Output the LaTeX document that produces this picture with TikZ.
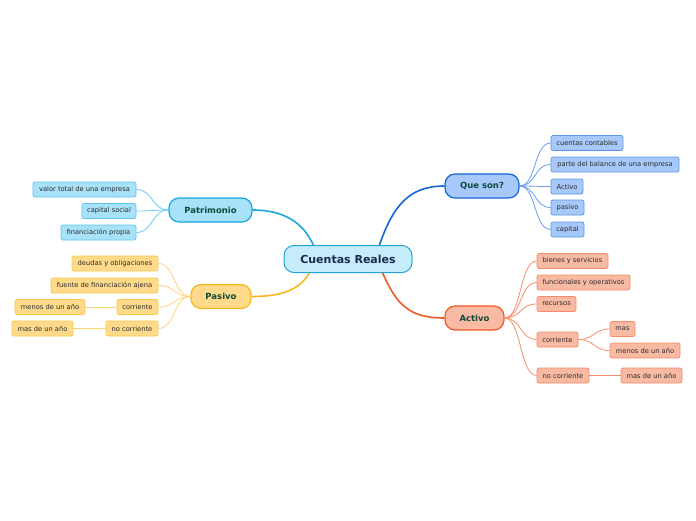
\documentclass[tikz,border=0pt]{standalone}
\usepackage{fontspec}
\setmainfont{DejaVu Sans}
\definecolor{crfill}{HTML}{C6ECFC}
\definecolor{crdraw}{HTML}{22A3DC}
\definecolor{crtext}{HTML}{1A2B4C}
\definecolor{brtext}{HTML}{0F4A3A}
\definecolor{leaftext}{HTML}{2A2A2A}
\definecolor{patfill}{HTML}{A7E2F8}
\definecolor{patdraw}{HTML}{1BA5E2}
\definecolor{patleaf}{HTML}{5CC6F0}
\definecolor{patline}{HTML}{6ACBF0}
\definecolor{pasfill}{HTML}{FFDA8A}
\definecolor{pasdraw}{HTML}{F8B61E}
\definecolor{pasleaf}{HTML}{FBC94B}
\definecolor{pasline}{HTML}{FDD37A}
\definecolor{qsfill}{HTML}{A6C8FA}
\definecolor{qsdraw}{HTML}{1665D5}
\definecolor{qsleaf}{HTML}{5D93EA}
\definecolor{qsline}{HTML}{6B9CEB}
\definecolor{acfill}{HTML}{F9BAA3}
\definecolor{acdraw}{HTML}{F1592A}
\definecolor{acleaf}{HTML}{F68B6B}
\definecolor{acline}{HTML}{F68E6D}
\tikzset{
  central/.style={draw=crdraw, fill=crfill, line width=1pt, rounded corners=10pt,
    minimum width=128pt, minimum height=27pt, inner sep=0pt, text=crtext,
    font=\fontsize{11}{13}\selectfont\bfseries},
  branch/.style={line width=1.2pt, rounded corners=10pt, minimum height=24pt,
    inner sep=0pt, text=brtext, font=\fontsize{8.5}{10}\selectfont\bfseries},
  leaf/.style={line width=0.7pt, rounded corners=2pt, minimum height=15pt,
    inner sep=2pt, text=leaftext, font=\fontsize{6.7}{8}\selectfont},
  pleaf/.style={leaf, draw=patleaf, fill=patfill},
  sleaf/.style={leaf, draw=pasleaf, fill=pasfill},
  qleaf/.style={leaf, draw=qsleaf, fill=qsfill},
  aleaf/.style={leaf, draw=acleaf, fill=acfill},
  mainc/.style={line width=1.6pt},
  leafc/.style={line width=0.8pt},
}
\begin{document}
\begin{tikzpicture}[x=1pt,y=-1pt]
\useasboundingbox (0,0) rectangle (696,520);
% central
\node[central] (cr) at (348,259) {Cuentas Reales};
% branches
\node[branch, draw=patdraw, fill=patfill, minimum width=83pt] (pat) at (210.5,210) {Patrimonio};
\node[branch, draw=pasdraw, fill=pasfill, minimum width=60pt] (pas) at (221,296.5) {Pasivo};
\node[branch, draw=qsdraw, fill=qsfill, minimum width=74pt] (qs) at (482,186) {Que son?};
\node[branch, draw=acdraw, fill=acfill, minimum width=59pt] (ac) at (474.5,318) {Activo};
% main connectors
\draw[mainc, draw=patdraw] (cr.158) .. controls +(-10,-22) and +(32,0) .. (pat.east);
\draw[mainc, draw=pasdraw] (cr.200) .. controls +(-10,16) and +(32,0) .. (pas.east);
\draw[mainc, draw=qsdraw] (cr.24) .. controls +(14,-40) and +(-35,0) .. (qs.west);
\draw[mainc, draw=acdraw] (cr.338) .. controls +(14,32) and +(-35,0) .. (ac.west);
% Patrimonio leaves
\node[pleaf, minimum width=103pt] (p1) at (84.5,189.5) {valor total de una empresa};
\node[pleaf, minimum width=54pt] (p2) at (109,211) {capital social};
\node[pleaf, minimum width=75pt] (p3) at (98.5,232.5) {financiación propia};
\foreach \n in {p1,p2,p3}
  \draw[leafc, draw=patline] (pat.west) .. controls +(-17,0) and +(17,0) .. (\n.east);
% Pasivo leaves
\node[sleaf, minimum width=86pt] (s1) at (115,263.5) {deudas y obligaciones};
\node[sleaf, minimum width=107pt] (s2) at (104.5,285.5) {fuente de financiación ajena};
\node[sleaf, minimum width=41pt] (s3) at (137.5,307) {corriente};
\node[sleaf, minimum width=52pt] (s4) at (132,328.5) {no corriente};
\node[sleaf, minimum width=70pt] (s5) at (50,307) {menos de un año};
\node[sleaf, minimum width=61pt] (s6) at (42.5,328.5) {mas de un año};
\foreach \n in {s1,s2,s3,s4}
  \draw[leafc, draw=pasline] (pas.west) .. controls +(-17,0) and +(17,0) .. (\n.east);
\draw[leafc, draw=pasline] (s3.west) -- (s5.east);
\draw[leafc, draw=pasline] (s4.west) -- (s6.east);
% Que son leaves
\node[qleaf, minimum width=72pt] (q1) at (587,143) {cuentas contables};
\node[qleaf, minimum width=128pt] (q2) at (615,164.5) {parte del balance de una empresa};
\node[qleaf, minimum width=32pt] (q3) at (567,186.5) {Activo};
\node[qleaf, minimum width=33pt] (q4) at (567.5,207.5) {pasivo};
\node[qleaf, minimum width=33pt] (q5) at (567.5,229.5) {capital};
\foreach \n in {q1,q2,q3,q4,q5}
  \draw[leafc, draw=qsline] (qs.east) .. controls +(17,0) and +(-17,0) .. (\n.west);
% Activo leaves
\node[aleaf, minimum width=71pt] (a1) at (572.5,261) {bienes y servicios};
\node[aleaf, minimum width=93pt] (a2) at (583.5,282.5) {funcionales y operativos};
\node[aleaf, minimum width=39pt] (a3) at (556.5,304) {recursos};
\node[aleaf, minimum width=41pt] (a4) at (557.5,339.5) {corriente};
\node[aleaf, minimum width=52pt] (a5) at (563,375.5) {no corriente};
\node[aleaf, minimum width=25pt] (a6) at (622.5,329) {mas};
\node[aleaf, minimum width=70pt] (a7) at (645,350.5) {menos de un año};
\node[aleaf, minimum width=61pt] (a8) at (651.5,375.5) {mas de un año};
\foreach \n in {a1,a2,a3,a4,a5}
  \draw[leafc, draw=acline] (ac.east) .. controls +(17,0) and +(-17,0) .. (\n.west);
\foreach \n in {a6,a7}
  \draw[leafc, draw=acline] (a4.east) .. controls +(16,0) and +(-16,0) .. (\n.west);
\draw[leafc, draw=acline] (a5.east) -- (a8.west);
\end{tikzpicture}
\end{document}
